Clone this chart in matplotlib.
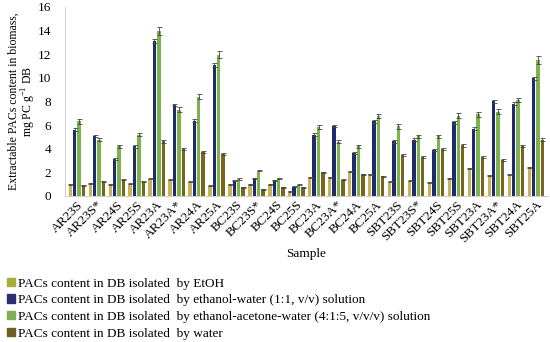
import matplotlib.pyplot as plt
import numpy as np

samples = ["AR23S", "AR23S*", "AR24S", "AR25S", "AR23A", "AR23A*", "AR24A", "AR25A",
           "BC23S", "BC23S*", "BC24S", "BC25S", "BC23A", "BC23A*", "BC24A", "BC25A",
           "SBT23S", "SBT23S*", "SBT24S", "SBT25S", "SBT23A", "SBT23A*", "SBT24A", "SBT25A"]

etoh = [1.0, 1.08, 1.0, 1.05, 1.45, 1.36, 1.22, 0.85,
        1.0, 1.0, 1.0, 0.4, 1.6, 1.6, 2.07, 1.84,
        1.22, 1.28, 1.16, 1.5, 2.35, 1.73, 1.79, 2.44]
eth_water = [5.6, 5.05, 3.12, 4.2, 13.1, 7.7, 6.38, 11.06,
             1.3, 1.5, 1.33, 0.8, 5.2, 5.9, 3.63, 6.33,
             4.62, 4.77, 3.86, 6.24, 5.7, 8.0, 7.8, 9.96]
eth_ac_water = [6.3, 4.77, 4.2, 5.2, 13.95, 7.3, 8.4, 11.95,
                1.45, 2.15, 1.5, 0.94, 5.84, 4.6, 4.2, 6.75,
                5.9, 5.05, 5.05, 6.8, 6.9, 7.12, 8.1, 11.5]
water = [0.9, 1.22, 1.36, 1.22, 4.62, 3.97, 3.72, 3.57,
         0.74, 0.57, 0.74, 0.74, 2.0, 1.36, 1.84, 1.65,
         3.43, 3.26, 3.97, 4.28, 3.26, 3.06, 4.2, 4.77]

err_etoh = [0.04] * len(samples)
err_ew = [0.12, 0.1, 0.08, 0.1, 0.15, 0.12, 0.1, 0.15,
          0.05, 0.05, 0.05, 0.05, 0.12, 0.1, 0.1, 0.12,
          0.1, 0.1, 0.08, 0.12, 0.1, 0.1, 0.12, 0.12]
err_eaw = [0.2, 0.12, 0.1, 0.15, 0.35, 0.2, 0.2, 0.3,
           0.06, 0.08, 0.06, 0.05, 0.2, 0.1, 0.12, 0.15,
           0.2, 0.15, 0.15, 0.2, 0.2, 0.2, 0.15, 0.3]
err_water = [0.04, 0.05, 0.05, 0.05, 0.1, 0.08, 0.08, 0.08,
             0.03, 0.03, 0.03, 0.03, 0.06, 0.05, 0.05, 0.05,
             0.08, 0.08, 0.08, 0.1, 0.08, 0.08, 0.08, 0.1]

labels = ["PACs content in DB isolated  by EtOH",
          "PACs content in DB isolated  by ethanol-water (1:1, v/v) solution",
          "PACs content in DB isolated  by ethanol-acetone-water (4:1:5, v/v/v) solution",
          "PACs content in DB isolated  by water"]
bar_colors = ["#c9b45a", "#1f2b6b", "#7db34f", "#7a6520"]
legend_colors = ["#a9ad3c", "#2a2f74", "#7fae55", "#6e5f22"]

plt.rcParams['font.family'] = ['Liberation Serif', 'DejaVu Serif']
plt.rcParams['mathtext.fontset'] = 'custom'
plt.rcParams['mathtext.rm'] = 'Liberation Serif'

fig = plt.figure(figsize=(5.5, 3.42), dpi=100)
ax = fig.add_axes([0.118, 0.427, 0.878, 0.553])

x = np.arange(len(samples))
w = 0.17
offs = [-0.33, -0.11, 0.11, 0.33]
series = [etoh, eth_water, eth_ac_water, water]
errs = [err_etoh, err_ew, err_eaw, err_water]
for vals, e, off, c in zip(series, errs, offs, bar_colors):
    ax.bar(x + off, vals, w, color=c, yerr=e, capsize=1.8,
           error_kw=dict(ecolor="#444444", elinewidth=0.6, capthick=0.6))

ax.set_xlim(-0.6, len(samples) - 0.4)
ax.set_ylim(0, 16)
ax.set_yticks(range(0, 17, 2))
ax.set_xticks(x)
ax.set_xticklabels(samples, rotation=45, ha="right", rotation_mode="anchor", fontsize=9.5)
ax.tick_params(axis="y", length=0, labelsize=9.5, pad=10)
ax.tick_params(axis="x", length=0, pad=2)
for s in ["top", "right"]:
    ax.spines[s].set_visible(False)
ax.spines["left"].set_color("#d0d0d0")
ax.spines["bottom"].set_color("#d0d0d0")
ax.set_ylabel("Extractable PACs content in biomass,\nmg PC g$^{-1}$ DB", fontsize=8.5,
              labelpad=0, linespacing=0.95)
ax.set_xlabel("Sample", fontsize=9.5, labelpad=2)

handles = [plt.Rectangle((0, 0), 1, 1, color=c) for c in legend_colors]
fig.legend(handles, labels, loc="lower left", bbox_to_anchor=(0.0, -0.012), frameon=False,
           fontsize=9.5, handlelength=0.6, handleheight=0.6, handletextpad=0.3,
           labelspacing=0.35, borderaxespad=0.1)

fig.savefig("out.png", dpi=100)
